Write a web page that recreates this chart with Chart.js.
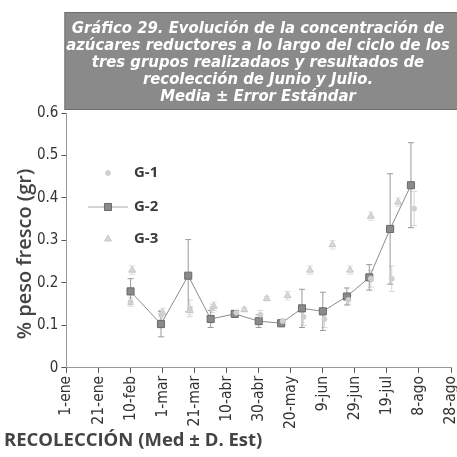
<!DOCTYPE html>
<html>
<head>
<meta charset="utf-8">
<script src="https://cdn.jsdelivr.net/npm/chart.js@4"></script>
<style>
  html, body { margin: 0; padding: 0; background: #fff; }
  #wrap { width: 457px; height: 457px; }
</style>
</head>
<body>
<div id="wrap"><canvas id="grafico"></canvas></div>
<script>
// days counted from 1-ene
var tickLabels = ['1-ene', '21-ene', '10-feb', '1-mar', '21-mar', '10-abr', '30-abr', '20-may', '9-jun', '29-jun', '19-jul', '8-ago', '28-ago'];
var titleLines = ['Gráfico 29. Evolución de la concentración de', 'azúcares reductores a lo largo del ciclo de los', 'tres grupos realizadaos y resultados de', 'recolección de Junio y Julio.', 'Media ± Error Estándar'];

var g1Days = [40, 59, 77, 91, 106, 121, 135, 148, 161, 176, 190, 203, 217];
var g1 = [0.155, 0.125, 0.14, 0.14, 0.13, 0.125, 0.11, 0.12, 0.115, 0.16, 0.21, 0.21, 0.375];
var g1Err = [0.01, 0.01, 0.02, 0.01, 0.005, 0.01, 0.005, 0.02, 0.02, 0.01, 0.02, 0.03, 0.04];

var g2Days = [40, 59, 76, 90, 105, 120, 134, 147, 160, 175, 189, 202, 215];
var g2 = [0.18, 0.103, 0.217, 0.115, 0.127, 0.11, 0.105, 0.14, 0.133, 0.168, 0.213, 0.327, 0.43];
var g2Err = [0.03, 0.03, 0.085, 0.02, 0.008, 0.015, 0.008, 0.045, 0.045, 0.02, 0.03, 0.13, 0.1];

var g3Days = [41, 60, 77, 92, 111, 125, 138, 152, 166, 177, 190, 207];
var g3 = [0.23, 0.13, 0.135, 0.145, 0.137, 0.163, 0.17, 0.23, 0.29, 0.23, 0.357, 0.39];
var g3Err = [0.01, 0.01, 0.01, 0.01, 0.005, 0.005, 0.01, 0.01, 0.01, 0.01, 0.01, 0.01];

function toPoints(days, vals) {
    return days.map(function (d, i) { return { x: d, y: vals[i] }; });
}

var errorBars = {
    id: 'errorBars',
    beforeDatasetsDraw: function (chart) {
        var ctx = chart.ctx;
        var xs = chart.scales.x, ys = chart.scales.y;
        chart.data.datasets.forEach(function (ds) {
            if (!ds.errors) return;
            ctx.save();
            ctx.strokeStyle = ds.errorColor;
            ctx.lineWidth = 1;
            ds.data.forEach(function (p, i) {
                var e = ds.errors[i];
                var x = xs.getPixelForValue(p.x);
                var y1 = ys.getPixelForValue(p.y + e), y2 = ys.getPixelForValue(p.y - e);
                ctx.beginPath();
                ctx.moveTo(x, y1); ctx.lineTo(x, y2);
                ctx.moveTo(x - 3, y1); ctx.lineTo(x + 3, y1);
                ctx.moveTo(x - 3, y2); ctx.lineTo(x + 3, y2);
                ctx.stroke();
            });
            ctx.restore();
        });
    }
};

var decor = {
    id: 'decor',
    afterDraw: function (chart) {
        var ctx = chart.ctx;
        var area = chart.chartArea;
        var left = area.left - 2;
        ctx.save();
        // title box
        ctx.fillStyle = '#8a8a8a';
        ctx.fillRect(left, 12, chart.width - left, 98);
        ctx.strokeStyle = '#6e6e6e';
        ctx.strokeRect(left + 0.5, 12.5, chart.width - left, 97);
        ctx.fillStyle = '#fff';
        ctx.font = 'italic bold 16.5px "DejaVu Sans Condensed", "DejaVu Sans"';
        ctx.textAlign = 'center';
        ctx.textBaseline = 'middle';
        titleLines.forEach(function (t, i) {
            ctx.fillText(t, 258, 29 + i * 17);
        });
        // legend
        var items = [
            { label: 'G-1', ds: chart.data.datasets[0], y: 173, line: false },
            { label: 'G-2', ds: chart.data.datasets[1], y: 207, line: true },
            { label: 'G-3', ds: chart.data.datasets[2], y: 239, line: false }
        ];
        items.forEach(function (it) {
            if (it.line) {
                ctx.strokeStyle = '#aaa';
                ctx.lineWidth = 1;
                ctx.beginPath();
                ctx.moveTo(88, it.y); ctx.lineTo(128, it.y);
                ctx.stroke();
            }
            ctx.fillStyle = it.ds.pointBackgroundColor;
            ctx.strokeStyle = it.ds.pointBorderColor;
            ctx.lineWidth = 1;
            Chart.helpers.drawPoint(ctx, { pointStyle: it.ds.pointStyle, radius: it.ds.pointRadius, rotation: 0, borderWidth: 1 }, 108, it.y);
            ctx.fillStyle = '#3a3a3a';
            ctx.font = 'bold 15px "Open Sans"';
            ctx.textAlign = 'left';
            ctx.fillText(it.label, 134, it.y);
        });
        // y axis title
        ctx.save();
        ctx.translate(25, 254);
        ctx.rotate(-Math.PI / 2);
        ctx.fillStyle = '#444';
        ctx.font = '600 20px "Open Sans"';
        ctx.textAlign = 'center';
        ctx.fillText('% peso fresco (gr)', 0, 0);
        ctx.restore();
        // x axis title
        ctx.fillStyle = '#444';
        ctx.font = 'bold 18.5px "Open Sans"';
        ctx.textAlign = 'left';
        ctx.fillText('RECOLECCIÓN (Med ± D. Est)', 4, 441);
        ctx.restore();
    }
};

var ctx = document.getElementById('grafico');
var chart = new Chart(ctx, {
    type: 'scatter',
    data: {
        datasets: [
            {
                label: 'G-1',
                data: toPoints(g1Days, g1),
                errors: g1Err,
                errorColor: '#d8d8d8',
                showLine: false,
                pointStyle: 'circle',
                pointRadius: 2.5,
                pointBackgroundColor: '#cfcfcf',
                pointBorderColor: '#cfcfcf'
            },
            {
                label: 'G-2',
                data: toPoints(g2Days, g2),
                errors: g2Err,
                errorColor: '#9a9a9a',
                showLine: true,
                borderColor: '#8c8c8c',
                borderWidth: 1,
                pointStyle: 'rect',
                pointRadius: 5,
                pointBackgroundColor: '#8a8a8a',
                pointBorderColor: '#6a6a6a'
            },
            {
                label: 'G-3',
                data: toPoints(g3Days, g3),
                errors: g3Err,
                errorColor: '#e0e0e0',
                showLine: false,
                pointStyle: 'triangle',
                pointRadius: 4,
                pointBackgroundColor: '#d8d8d8',
                pointBorderColor: '#c8c8c8'
            }
        ]
    },
    options: {
        responsive: true,
        maintainAspectRatio: false,
        animation: false,
        layout: {
            padding: { top: 113, right: 2, bottom: 25, left: 34 }
        },
        plugins: {
            legend: { display: false },
            title: { display: false },
            tooltip: { enabled: false }
        },
        scales: {
            x: {
                type: 'linear',
                min: 0,
                max: 240,
                afterBuildTicks: function (axis) {
                    axis.ticks = tickLabels.map(function (t, i) { return { value: i * 20 }; });
                },
                afterFit: function (axis) {
                    axis.paddingLeft = 0;
                    axis.paddingRight = 0;
                },
                ticks: {
                    minRotation: 90,
                    maxRotation: 90,
                    color: '#333',
                    font: { family: 'DejaVu Sans Condensed', size: 15.5 },
                    callback: function (v) { return tickLabels[Math.round(v / 20)]; }
                },
                grid: { drawOnChartArea: false, color: '#555', tickLength: 5 },
                border: { color: '#999' }
            },
            y: {
                min: 0,
                max: 0.6,
                afterFit: function (axis) {
                    axis.paddingTop = 0;
                    axis.paddingBottom = 0;
                },
                ticks: {
                    stepSize: 0.1,
                    color: '#333',
                    font: { family: 'DejaVu Sans Condensed', size: 15 },
                    callback: function (v) { return Math.round(v * 10) / 10; }
                },
                grid: { drawOnChartArea: false, color: '#555', tickLength: 5 },
                border: { color: '#999' }
            }
        }
    },
    plugins: [errorBars, decor]
});
</script>
</body>
</html>
